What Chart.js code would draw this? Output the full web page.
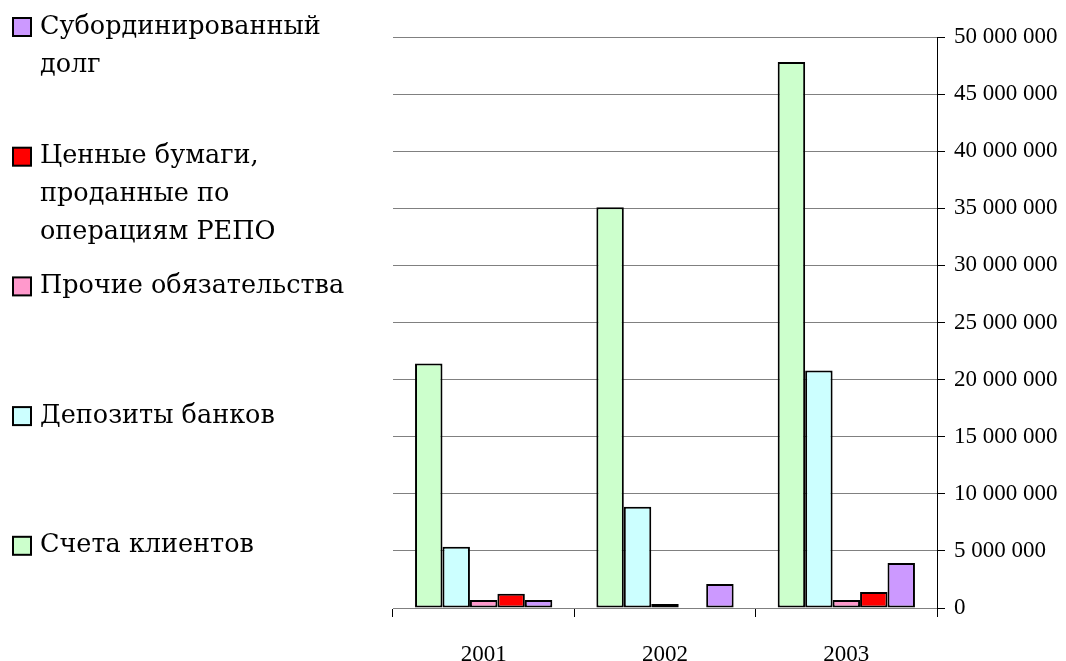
<!DOCTYPE html>
<html>
<head>
<meta charset="utf-8">
<script src="https://cdn.jsdelivr.net/npm/chart.js@4.4.1/dist/chart.umd.min.js"></script>
<style>
    html, body { margin: 0; padding: 0; background: #fff; }
    #wrap { width: 1066px; height: 661px; }
</style>
</head>
<body>
<div id="wrap"><canvas id="liabilitiesChart" width="1066" height="661"></canvas></div>
<script>
const years = ['2001', '2002', '2003'];

const clientAccounts = [21400000, 35100000, 47800000];
const bankDeposits = [5370000, 8870000, 20800000];
const otherLiabilities = [700000, 350000, 700000];
const repoSecurities = [1250000, 0, 1400000];
const subordinatedDebt = [700000, 2100000, 3950000];

const seriesNames = [
    'Счета клиентов',
    'Депозиты банков',
    'Прочие обязательства',
    'Ценные бумаги, проданные по операциям РЕПО',
    'Субординированный долг'
];

// wrapped lines for the side legend
const legendLines = [
    ['Счета клиентов'],
    ['Депозиты банков'],
    ['Прочие обязательства'],
    ['Ценные бумаги,', 'проданные по', 'операциям РЕПО'],
    ['Субординированный', 'долг']
];

const yTicks = [0, 5000000, 10000000, 15000000, 20000000, 25000000,
    30000000, 35000000, 40000000, 45000000, 50000000];

const seriesColors = ['#CCFFCC', '#CCFFFF', '#FF99CC', '#FF0000', '#CC99FF'];
const seriesValues = [clientAccounts, bankDeposits, otherLiabilities, repoSecurities, subordinatedDebt];

const serif = '"Liberation Serif", "DejaVu Serif", serif';
const legendFont = '"DejaVu Serif", "Liberation Serif", serif';

function formatThousands(value) {
    return String(value).replace(/\B(?=(\d{3})+(?!\d))/g, ' ');
}

// legend on the left, last series on top
const sideLegend = {
    id: 'sideLegend',
    afterDraw(chart) {
        const ctx = chart.ctx;
        const items = chart.data.datasets.map((ds, i) => ({ ds, lines: legendLines[i] })).reverse();
        ctx.save();
        ctx.font = '25.5px ' + legendFont;
        ctx.textBaseline = 'middle';
        items.forEach((item, i) => {
            const y = 27 + i * 129.7;
            ctx.fillStyle = item.ds.backgroundColor;
            ctx.fillRect(13, y - 9, 18, 18);
            ctx.strokeStyle = '#000';
            ctx.lineWidth = 2;
            ctx.strokeRect(13, y - 9, 18, 18);
            ctx.fillStyle = '#000';
            item.lines.forEach((line, j) => {
                ctx.fillText(line, 40, y + j * 38);
            });
        });
        ctx.restore();
    }
};

const ctx = document.getElementById('liabilitiesChart');

new Chart(ctx, {
    type: 'bar',
    data: {
        labels: years,
        datasets: seriesNames.map((name, i) => ({
            label: name,
            data: seriesValues[i],
            backgroundColor: seriesColors[i],
            borderColor: '#000',
            borderWidth: 2,
            borderSkipped: false,
            barPercentage: 1,
            categoryPercentage: 0.757
        }))
    },
    options: {
        responsive: false,
        animation: false,
        layout: {
            padding: { left: 393, top: 37, right: 0, bottom: 0 }
        },
        plugins: {
            legend: { display: false },
            tooltip: { enabled: false }
        },
        scales: {
            x: {
                grid: {
                    offset: true,
                    drawOnChartArea: false,
                    drawTicks: true,
                    tickLength: 9,
                    tickColor: '#000',
                    lineWidth: 1
                },
                border: { color: '#808080', width: 1 },
                ticks: {
                    color: '#000',
                    font: { family: serif, size: 23 },
                    padding: 24
                },
                afterFit(scale) { scale.height = 53; }
            },
            y: {
                position: 'right',
                min: 0,
                max: 50000000,
                afterBuildTicks(scale) {
                    scale.ticks = yTicks.map(v => ({ value: v }));
                },
                grid: {
                    color: '#808080',
                    lineWidth: 1,
                    drawTicks: true,
                    tickLength: 8,
                    tickColor: '#000'
                },
                border: { color: '#000', width: 1 },
                ticks: {
                    color: '#000',
                    font: { family: serif, size: 23 },
                    padding: 9,
                    callback: value => formatThousands(value)
                },
                afterFit(scale) { scale.width = 129; }
            }
        }
    },
    plugins: [sideLegend]
});
</script>
</body>
</html>
